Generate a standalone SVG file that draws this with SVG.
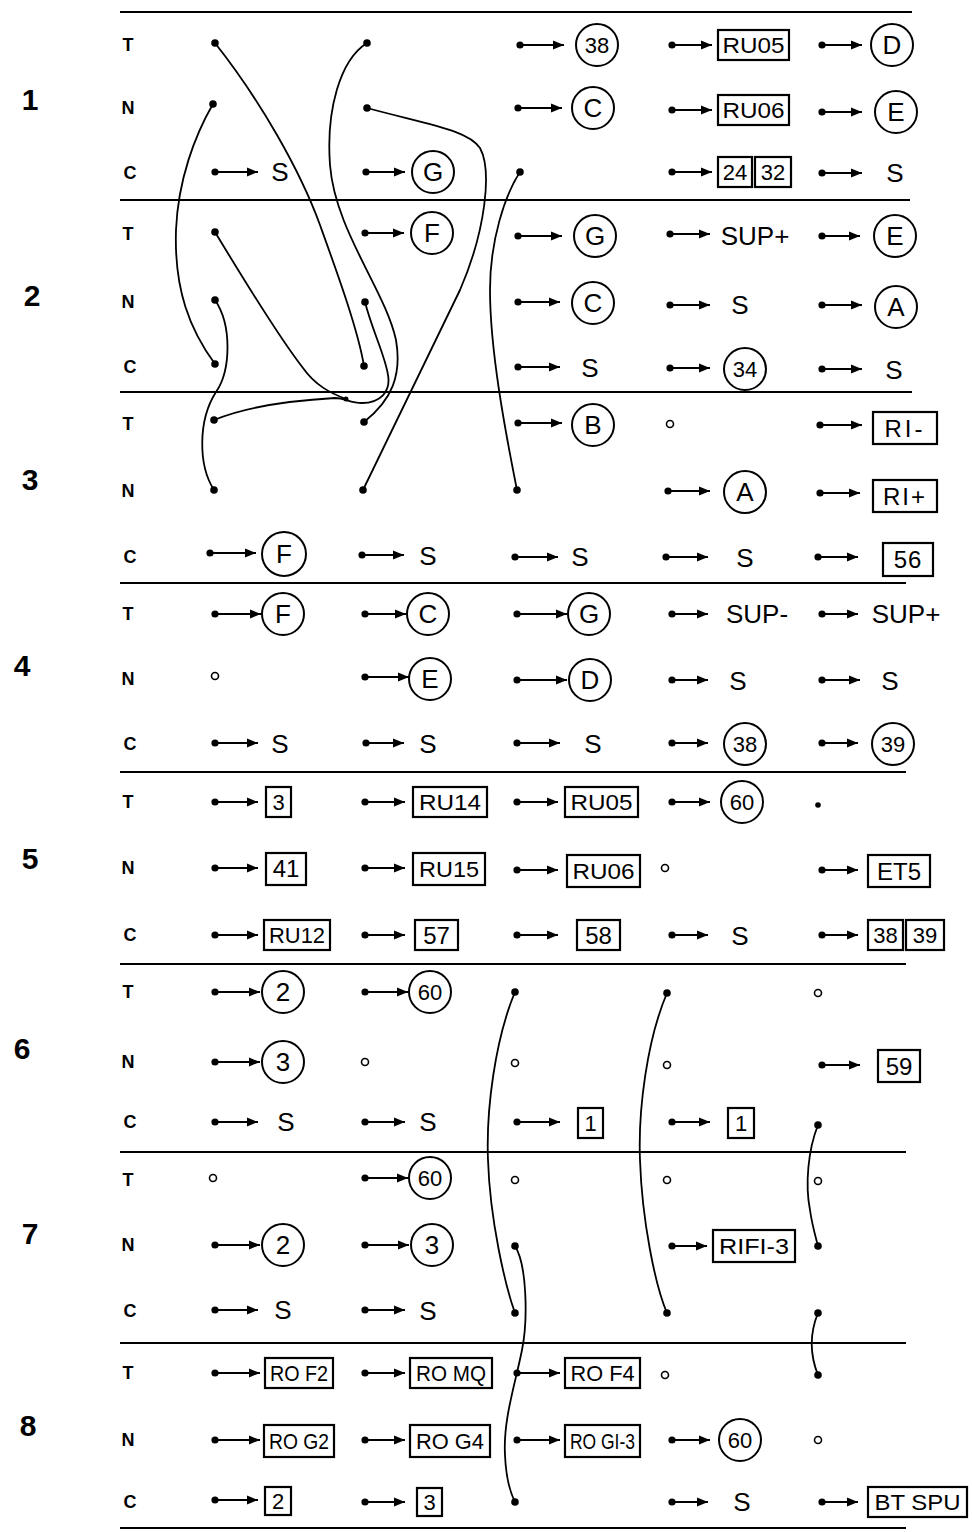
<svg xmlns="http://www.w3.org/2000/svg" width="972" height="1532" viewBox="0 0 972 1532">
<style>
.hl{stroke:#000;stroke-width:2.2;fill:none}
.ar{stroke:#000;stroke-width:2;marker-start:url(#dt);marker-end:url(#ah)}
.cu{stroke:#000;stroke-width:1.8;fill:none;marker-start:url(#cd);marker-end:url(#cd)}
.cn circle{fill:#fff;stroke:#000;stroke-width:2}
.bx rect{fill:#fff;stroke:#000;stroke-width:2.2}
.op{fill:#fff;stroke:#000;stroke-width:1.6}
.fd{fill:#000}
text{font-family:"Liberation Sans",Arial,sans-serif;fill:#000;text-anchor:middle}
.l{font-size:26px}
.n{font-size:22px}
.b{font-size:22px}
.b2{font-size:24px}
.rl{font-size:18px;font-weight:bold}
.sn{font-size:30px;font-weight:bold}
</style>
<defs>
<marker id="ah" markerUnits="userSpaceOnUse" markerWidth="12" markerHeight="10" refX="11" refY="5" orient="auto"><path d="M0,0.6 L11,5 L0,9.4 z" fill="#000"/></marker>
<marker id="dt" markerUnits="userSpaceOnUse" markerWidth="10" markerHeight="10" refX="5" refY="5"><circle cx="5" cy="5" r="3.6" fill="#000"/></marker>
<marker id="cd" markerUnits="userSpaceOnUse" markerWidth="10" markerHeight="10" refX="5" refY="5"><circle cx="5" cy="5" r="3.8" fill="#000"/></marker>
</defs>
<rect width="972" height="1532" fill="#fff"/>

<g id="rules">
<line class="hl" x1="120" y1="12" x2="912" y2="12"/>
<line class="hl" x1="120" y1="200" x2="910" y2="200"/>
<line class="hl" x1="120" y1="392" x2="912" y2="392"/>
<line class="hl" x1="120" y1="583" x2="906" y2="583"/>
<line class="hl" x1="120" y1="772" x2="906" y2="772"/>
<line class="hl" x1="120" y1="964" x2="906" y2="964"/>
<line class="hl" x1="120" y1="1152" x2="906" y2="1152"/>
<line class="hl" x1="120" y1="1343" x2="906" y2="1343"/>
<line class="hl" x1="120" y1="1528" x2="906" y2="1528"/>
</g>

<g id="labels">
<text class="sn" x="30" y="110">1</text>
<text class="sn" x="32" y="306">2</text>
<text class="sn" x="30" y="490">3</text>
<text class="sn" x="22" y="676">4</text>
<text class="sn" x="30" y="869">5</text>
<text class="sn" x="22" y="1059">6</text>
<text class="sn" x="30" y="1244">7</text>
<text class="sn" x="28" y="1436">8</text>
<text class="rl" x="128" y="51">T</text><text class="rl" x="128" y="114">N</text><text class="rl" x="130" y="179">C</text>
<text class="rl" x="128" y="240">T</text><text class="rl" x="128" y="308">N</text><text class="rl" x="130" y="373">C</text>
<text class="rl" x="128" y="430">T</text><text class="rl" x="128" y="497">N</text><text class="rl" x="130" y="563">C</text>
<text class="rl" x="128" y="620">T</text><text class="rl" x="128" y="685">N</text><text class="rl" x="130" y="750">C</text>
<text class="rl" x="128" y="808">T</text><text class="rl" x="128" y="874">N</text><text class="rl" x="130" y="941">C</text>
<text class="rl" x="128" y="998">T</text><text class="rl" x="128" y="1068">N</text><text class="rl" x="130" y="1128">C</text>
<text class="rl" x="128" y="1186">T</text><text class="rl" x="128" y="1251">N</text><text class="rl" x="130" y="1317">C</text>
<text class="rl" x="128" y="1379">T</text><text class="rl" x="128" y="1446">N</text><text class="rl" x="130" y="1508">C</text>
</g>

<g id="connectors">
<path class="cu" d="M215,43 C260,100 300,170 320,225 C338,275 358,330 364,366"/>
<path class="cu" d="M213,104 C195,135 178,180 176,230 C174,290 190,330 215,364"/>
<path class="cu" d="M215,300 C232,325 231,370 216,392 C198,420 198,465 214,490"/>
<path class="cu" d="M367,43 C340,60 326,110 330,165 C335,230 385,290 396,340 C402,375 392,400 364,422"/>
<path class="cu" d="M365,302 C372,330 385,355 388,375 C391,392 380,403 362,403 C350,403 345,398 335,398 C300,400 250,405 214,420"/>
<path class="cu" d="M215,232 C250,290 285,345 303,368 C315,385 330,393 346,399" style="marker-end:none"/>
<circle class="fd" cx="346" cy="399" r="2.5"/>
<path class="cu" d="M367,108 C430,125 468,130 480,148 C492,170 486,230 460,290 L363,490"/>
<path class="cu" d="M520,172 C505,195 490,240 490,290 C490,350 505,430 517,490"/>
<path class="cu" d="M515,992 C495,1040 486,1110 488,1160 C490,1220 505,1285 515,1313"/>
<path class="cu" d="M667,993 C647,1040 638,1110 640,1160 C642,1220 655,1285 667,1313"/>
<path class="cu" d="M818,1125 C808,1150 805,1185 810,1210 C812,1225 816,1238 818,1246"/>
<path class="cu" d="M515,1246 C527,1265 528,1320 522,1350 C515,1385 503,1420 505,1455 C506,1480 510,1492 515,1502"/>
<path class="cu" d="M818,1313 C809,1335 810,1355 818,1375"/>
<line class="ar" x1="520" y1="45" x2="564" y2="45"/>
<line class="ar" x1="672" y1="45" x2="712" y2="45"/>
<line class="ar" x1="822" y1="45" x2="862" y2="45"/>
<line class="ar" x1="518" y1="108" x2="562" y2="108"/>
<line class="ar" x1="672" y1="110" x2="712" y2="110"/>
<line class="ar" x1="822" y1="112" x2="862" y2="112"/>
<line class="ar" x1="215" y1="172" x2="258" y2="172"/>
<line class="ar" x1="366" y1="172" x2="405" y2="172"/>
<line class="ar" x1="672" y1="172" x2="712" y2="172"/>
<line class="ar" x1="822" y1="173" x2="862" y2="173"/>
<line class="ar" x1="365" y1="233" x2="404" y2="233"/>
<line class="ar" x1="518" y1="236" x2="562" y2="236"/>
<line class="ar" x1="670" y1="234" x2="710" y2="234"/>
<line class="ar" x1="822" y1="236" x2="860" y2="236"/>
<line class="ar" x1="518" y1="302" x2="560" y2="302"/>
<line class="ar" x1="670" y1="305" x2="710" y2="305"/>
<line class="ar" x1="822" y1="305" x2="862" y2="305"/>
<line class="ar" x1="518" y1="367" x2="560" y2="367"/>
<line class="ar" x1="670" y1="368" x2="710" y2="368"/>
<line class="ar" x1="822" y1="369" x2="862" y2="369"/>
<line class="ar" x1="518" y1="423" x2="562" y2="423"/>
<line class="ar" x1="820" y1="425" x2="862" y2="425"/>
<line class="ar" x1="668" y1="491" x2="710" y2="491"/>
<line class="ar" x1="820" y1="493" x2="860" y2="493"/>
<line class="ar" x1="210" y1="553" x2="256" y2="553"/>
<line class="ar" x1="362" y1="555" x2="404" y2="555"/>
<line class="ar" x1="515" y1="557" x2="558" y2="557"/>
<line class="ar" x1="666" y1="557" x2="708" y2="557"/>
<line class="ar" x1="818" y1="557" x2="858" y2="557"/>
<line class="ar" x1="215" y1="614" x2="261" y2="614"/>
<line class="ar" x1="365" y1="614" x2="406" y2="614"/>
<line class="ar" x1="517" y1="614" x2="567" y2="614"/>
<line class="ar" x1="672" y1="614" x2="708" y2="614"/>
<line class="ar" x1="822" y1="614" x2="858" y2="614"/>
<line class="ar" x1="365" y1="677" x2="409" y2="677"/>
<line class="ar" x1="517" y1="680" x2="567" y2="680"/>
<line class="ar" x1="672" y1="680" x2="708" y2="680"/>
<line class="ar" x1="822" y1="680" x2="860" y2="680"/>
<line class="ar" x1="215" y1="743" x2="258" y2="743"/>
<line class="ar" x1="366" y1="743" x2="404" y2="743"/>
<line class="ar" x1="517" y1="743" x2="560" y2="743"/>
<line class="ar" x1="672" y1="743" x2="708" y2="743"/>
<line class="ar" x1="822" y1="743" x2="858" y2="743"/>
<line class="ar" x1="215" y1="802" x2="258" y2="802"/>
<line class="ar" x1="365" y1="802" x2="405" y2="802"/>
<line class="ar" x1="517" y1="802" x2="558" y2="802"/>
<line class="ar" x1="672" y1="802" x2="710" y2="802"/>
<line class="ar" x1="215" y1="868" x2="258" y2="868"/>
<line class="ar" x1="365" y1="868" x2="405" y2="868"/>
<line class="ar" x1="517" y1="870" x2="558" y2="870"/>
<line class="ar" x1="822" y1="870" x2="858" y2="870"/>
<line class="ar" x1="215" y1="935" x2="258" y2="935"/>
<line class="ar" x1="365" y1="935" x2="405" y2="935"/>
<line class="ar" x1="517" y1="935" x2="558" y2="935"/>
<line class="ar" x1="672" y1="935" x2="708" y2="935"/>
<line class="ar" x1="822" y1="935" x2="858" y2="935"/>
<line class="ar" x1="215" y1="992" x2="260" y2="992"/>
<line class="ar" x1="365" y1="992" x2="408" y2="992"/>
<line class="ar" x1="215" y1="1062" x2="260" y2="1062"/>
<line class="ar" x1="822" y1="1065" x2="860" y2="1065"/>
<line class="ar" x1="215" y1="1122" x2="258" y2="1122"/>
<line class="ar" x1="365" y1="1122" x2="405" y2="1122"/>
<line class="ar" x1="517" y1="1122" x2="560" y2="1122"/>
<line class="ar" x1="672" y1="1122" x2="710" y2="1122"/>
<line class="ar" x1="365" y1="1178" x2="408" y2="1178"/>
<line class="ar" x1="215" y1="1245" x2="260" y2="1245"/>
<line class="ar" x1="365" y1="1245" x2="409" y2="1245"/>
<line class="ar" x1="672" y1="1246" x2="707" y2="1246"/>
<line class="ar" x1="215" y1="1310" x2="258" y2="1310"/>
<line class="ar" x1="365" y1="1310" x2="405" y2="1310"/>
<line class="ar" x1="215" y1="1373" x2="260" y2="1373"/>
<line class="ar" x1="365" y1="1373" x2="405" y2="1373"/>
<line class="ar" x1="517" y1="1373" x2="560" y2="1373"/>
<line class="ar" x1="215" y1="1440" x2="260" y2="1440"/>
<line class="ar" x1="365" y1="1440" x2="405" y2="1440"/>
<line class="ar" x1="517" y1="1440" x2="560" y2="1440"/>
<line class="ar" x1="672" y1="1440" x2="710" y2="1440"/>
<line class="ar" x1="215" y1="1500" x2="258" y2="1500"/>
<line class="ar" x1="365" y1="1502" x2="405" y2="1502"/>
<line class="ar" x1="672" y1="1502" x2="708" y2="1502"/>
<line class="ar" x1="822" y1="1502" x2="858" y2="1502"/>
</g>

<g id="dots">
<circle class="op" cx="670" cy="424" r="3.5"/>
<circle class="op" cx="215" cy="676" r="3.5"/>
<circle class="fd" cx="818" cy="805" r="2.8"/>
<circle class="op" cx="665" cy="868" r="3.5"/>
<circle class="op" cx="818" cy="993" r="3.5"/>
<circle class="op" cx="365" cy="1062" r="3.5"/>
<circle class="op" cx="515" cy="1063" r="3.5"/>
<circle class="op" cx="667" cy="1065" r="3.5"/>
<circle class="op" cx="213" cy="1178" r="3.5"/>
<circle class="op" cx="515" cy="1180" r="3.5"/>
<circle class="op" cx="667" cy="1180" r="3.5"/>
<circle class="op" cx="818" cy="1181" r="3.5"/>
<circle class="op" cx="665" cy="1375" r="3.5"/>
<circle class="op" cx="818" cy="1440" r="3.5"/>
</g>

<g id="n1T3" class="cn"><circle cx="597" cy="45" r="21"/><text class="n" x="597" y="53">38</text></g>
<g id="n1T4" class="bx"><rect x="718" y="30" width="71" height="30"/><text class="b" x="753.5" y="53" textLength="62" lengthAdjust="spacingAndGlyphs">RU05</text></g>
<g id="n1T5" class="cn"><circle cx="892" cy="45" r="21"/><text class="l" x="892" y="54">D</text></g>
<g id="n1N3" class="cn"><circle cx="593" cy="108" r="21"/><text class="l" x="593" y="117">C</text></g>
<g id="n1N4" class="bx"><rect x="718" y="95" width="71" height="30"/><text class="b" x="753.5" y="118" textLength="62" lengthAdjust="spacingAndGlyphs">RU06</text></g>
<g id="n1N5" class="cn"><circle cx="896" cy="112" r="21"/><text class="l" x="896" y="121">E</text></g>
<g id="n1C1"><text class="l" x="280" y="181">S</text></g>
<g id="n1C2" class="cn"><circle cx="433" cy="172" r="21"/><text class="l" x="433" y="181">G</text></g>
<g id="n1C4" class="bx"><rect x="718" y="157" width="34" height="30"/><text class="b" x="735" y="180">24</text><rect x="755" y="157" width="36" height="30"/><text class="b" x="773" y="180">32</text></g>
<g id="n1C5"><text class="l" x="895" y="182">S</text></g>

<g id="n2T2" class="cn"><circle cx="432" cy="233" r="21"/><text class="l" x="432" y="242">F</text></g>
<g id="n2T3" class="cn"><circle cx="595" cy="236" r="21"/><text class="l" x="595" y="245">G</text></g>
<g id="n2T4"><text class="l" x="755" y="245">SUP+</text></g>
<g id="n2T5" class="cn"><circle cx="895" cy="236" r="21"/><text class="l" x="895" y="245">E</text></g>
<g id="n2N3" class="cn"><circle cx="593" cy="303" r="21"/><text class="l" x="593" y="312">C</text></g>
<g id="n2N4"><text class="l" x="740" y="314">S</text></g>
<g id="n2N5" class="cn"><circle cx="896" cy="307" r="21"/><text class="l" x="896" y="316">A</text></g>
<g id="n2C3"><text class="l" x="590" y="377">S</text></g>
<g id="n2C4" class="cn"><circle cx="745" cy="369" r="21"/><text class="n" x="745" y="377">34</text></g>
<g id="n2C5"><text class="l" x="894" y="379">S</text></g>

<g id="n3T3" class="cn"><circle cx="593" cy="425" r="21"/><text class="l" x="593" y="434">B</text></g>
<g id="n3T5" class="bx"><rect x="873" y="412" width="64" height="32"/><text class="b2" x="905" y="437" letter-spacing="3">RI-</text></g>
<g id="n3N4" class="cn"><circle cx="745" cy="492" r="21"/><text class="l" x="745" y="501">A</text></g>
<g id="n3N5" class="bx"><rect x="873" y="480" width="64" height="32"/><text class="b2" x="905" y="505" letter-spacing="2">RI+</text></g>
<g id="n3C1" class="cn"><circle cx="284" cy="554" r="22"/><text class="l" x="284" y="563">F</text></g>
<g id="n3C2"><text class="l" x="428" y="565">S</text></g>
<g id="n3C3"><text class="l" x="580" y="566">S</text></g>
<g id="n3C4"><text class="l" x="745" y="567">S</text></g>
<g id="n3C5" class="bx"><rect x="883" y="543" width="50" height="33"/><text class="b2" x="908" y="568" letter-spacing="1">56</text></g>

<g id="n4T1" class="cn"><circle cx="283" cy="614" r="21"/><text class="l" x="283" y="623">F</text></g>
<g id="n4T2" class="cn"><circle cx="428" cy="614" r="21"/><text class="l" x="428" y="623">C</text></g>
<g id="n4T3" class="cn"><circle cx="589" cy="614" r="21"/><text class="l" x="589" y="623">G</text></g>
<g id="n4T4"><text class="l" x="757" y="623">SUP-</text></g>
<g id="n4T5"><text class="l" x="906" y="623">SUP+</text></g>
<g id="n4N2" class="cn"><circle cx="430" cy="679" r="21"/><text class="l" x="430" y="688">E</text></g>
<g id="n4N3" class="cn"><circle cx="590" cy="680" r="21"/><text class="l" x="590" y="689">D</text></g>
<g id="n4N4"><text class="l" x="738" y="690">S</text></g>
<g id="n4N5"><text class="l" x="890" y="690">S</text></g>
<g id="n4C1"><text class="l" x="280" y="753">S</text></g>
<g id="n4C2"><text class="l" x="428" y="753">S</text></g>
<g id="n4C3"><text class="l" x="593" y="753">S</text></g>
<g id="n4C4" class="cn"><circle cx="745" cy="744" r="21"/><text class="n" x="745" y="752">38</text></g>
<g id="n4C5" class="cn"><circle cx="893" cy="744" r="21"/><text class="n" x="893" y="752">39</text></g>

<g id="n5T1" class="bx"><rect x="266" y="787" width="25" height="30"/><text class="b" x="278.5" y="810">3</text></g>
<g id="n5T2" class="bx"><rect x="413" y="787" width="74" height="30"/><text class="b" x="450" y="810" textLength="62" lengthAdjust="spacingAndGlyphs">RU14</text></g>
<g id="n5T3" class="bx"><rect x="565" y="787" width="73" height="30"/><text class="b" x="601.5" y="810" textLength="62" lengthAdjust="spacingAndGlyphs">RU05</text></g>
<g id="n5T4" class="cn"><circle cx="742" cy="802" r="21"/><text class="n" x="742" y="810">60</text></g>
<g id="n5N1" class="bx"><rect x="266" y="853" width="40" height="32"/><text class="b2" x="286" y="877">41</text></g>
<g id="n5N2" class="bx"><rect x="413" y="853" width="72" height="32"/><text class="b" x="449" y="877" textLength="60" lengthAdjust="spacingAndGlyphs">RU15</text></g>
<g id="n5N3" class="bx"><rect x="567" y="855" width="73" height="32"/><text class="b" x="603.5" y="879" textLength="62" lengthAdjust="spacingAndGlyphs">RU06</text></g>
<g id="n5N5" class="bx"><rect x="868" y="855" width="62" height="32"/><text class="b2" x="899" y="880">ET5</text></g>
<g id="n5C1" class="bx"><rect x="264" y="920" width="66" height="30"/><text class="b" x="297" y="943" textLength="56" lengthAdjust="spacingAndGlyphs">RU12</text></g>
<g id="n5C2" class="bx"><rect x="415" y="920" width="43" height="30"/><text class="b2" x="436.5" y="944">57</text></g>
<g id="n5C3" class="bx"><rect x="577" y="920" width="43" height="30"/><text class="b2" x="598.5" y="944">58</text></g>
<g id="n5C4"><text class="l" x="740" y="945">S</text></g>
<g id="n5C5" class="bx"><rect x="868" y="920" width="35" height="30"/><text class="b" x="885.5" y="943">38</text><rect x="906" y="920" width="38" height="30"/><text class="b" x="925" y="943">39</text></g>

<g id="n6T1" class="cn"><circle cx="283" cy="992" r="21"/><text class="l" x="283" y="1001">2</text></g>
<g id="n6T2" class="cn"><circle cx="430" cy="992" r="21"/><text class="n" x="430" y="1000">60</text></g>
<g id="n6N1" class="cn"><circle cx="283" cy="1062" r="21"/><text class="l" x="283" y="1071">3</text></g>
<g id="n6N5" class="bx"><rect x="878" y="1050" width="42" height="32"/><text class="b2" x="899" y="1075">59</text></g>
<g id="n6C1"><text class="l" x="286" y="1131">S</text></g>
<g id="n6C2"><text class="l" x="428" y="1131">S</text></g>
<g id="n6C3" class="bx"><rect x="578" y="1108" width="25" height="30"/><text class="b" x="590.5" y="1131">1</text></g>
<g id="n6C4" class="bx"><rect x="728" y="1108" width="26" height="30"/><text class="b" x="741" y="1131">1</text></g>

<g id="n7T2" class="cn"><circle cx="430" cy="1178" r="21"/><text class="n" x="430" y="1186">60</text></g>
<g id="n7N1" class="cn"><circle cx="283" cy="1245" r="21"/><text class="l" x="283" y="1254">2</text></g>
<g id="n7N2" class="cn"><circle cx="432" cy="1245" r="21"/><text class="l" x="432" y="1254">3</text></g>
<g id="n7N4" class="bx"><rect x="713" y="1230" width="82" height="32"/><text class="b" x="754" y="1254" textLength="70" lengthAdjust="spacingAndGlyphs">RIFI-3</text></g>
<g id="n7C1"><text class="l" x="283" y="1319">S</text></g>
<g id="n7C2"><text class="l" x="428" y="1320">S</text></g>

<g id="n8T1" class="bx"><rect x="265" y="1358" width="68" height="30"/><text class="b" x="299" y="1381" textLength="58" lengthAdjust="spacingAndGlyphs">RO F2</text></g>
<g id="n8T2" class="bx"><rect x="410" y="1358" width="82" height="30"/><text class="b" x="451" y="1381" textLength="70" lengthAdjust="spacingAndGlyphs">RO MQ</text></g>
<g id="n8T3" class="bx"><rect x="565" y="1358" width="75" height="30"/><text class="b" x="602.5" y="1381" textLength="64" lengthAdjust="spacingAndGlyphs">RO F4</text></g>
<g id="n8N1" class="bx"><rect x="264" y="1425" width="70" height="32"/><text class="b" x="299" y="1449" textLength="60" lengthAdjust="spacingAndGlyphs">RO G2</text></g>
<g id="n8N2" class="bx"><rect x="410" y="1425" width="80" height="32"/><text class="b" x="450" y="1449" textLength="68" lengthAdjust="spacingAndGlyphs">RO G4</text></g>
<g id="n8N3" class="bx"><rect x="565" y="1425" width="75" height="32"/><text class="b" x="602.5" y="1449" textLength="65" lengthAdjust="spacingAndGlyphs">RO GI-3</text></g>
<g id="n8N4" class="cn"><circle cx="740" cy="1440" r="21"/><text class="n" x="740" y="1448">60</text></g>
<g id="n8C1" class="bx"><rect x="265" y="1487" width="26" height="28"/><text class="b" x="278" y="1509">2</text></g>
<g id="n8C2" class="bx"><rect x="417" y="1488" width="25" height="28"/><text class="b" x="429.5" y="1510">3</text></g>
<g id="n8C4"><text class="l" x="742" y="1511">S</text></g>
<g id="n8C5" class="bx"><rect x="868" y="1487" width="99" height="30"/><text class="b" x="917.5" y="1510" textLength="86" lengthAdjust="spacingAndGlyphs">BT SPU</text></g>
</svg>
